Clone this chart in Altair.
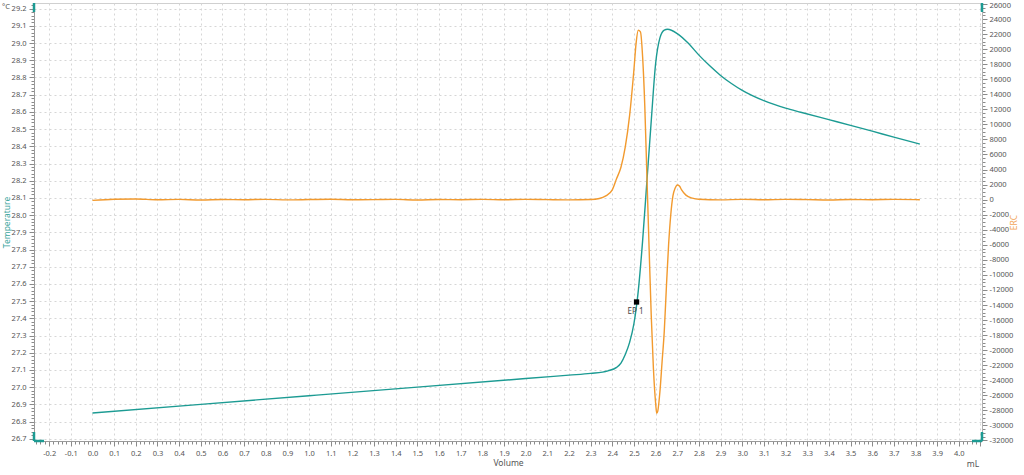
import altair as alt
import pandas as pd
import numpy as np

# ---- data ----
teal_vol = [0.00, 0.50, 1.00, 1.50, 2.00, 2.20, 2.30, 2.38, 2.42, 2.44, 2.46, 2.48, 2.50,
            2.52, 2.54, 2.56, 2.58, 2.60, 2.62, 2.64, 2.655, 2.70, 2.75, 2.80, 2.85,
            2.90, 2.95, 3.00, 3.10, 3.20, 3.27, 3.40, 3.50, 3.60, 3.70, 3.82]
teal_temp = [26.85, 26.90, 26.95, 27.00, 27.05, 27.07, 27.08, 27.095, 27.115, 27.14, 27.19, 27.26, 27.37,
             27.56, 27.85, 28.20, 28.55, 28.88, 29.03, 29.075, 29.08, 29.055, 29.00, 28.93, 28.868,
             28.812, 28.765, 28.725, 28.665, 28.622, 28.598, 28.555, 28.522, 28.488, 28.453, 28.413]

erc_vol = [0.0, 0.1, 0.2, 0.3, 0.4, 0.5, 0.6, 0.7, 0.8, 0.9, 1.0, 1.1, 1.2, 1.3, 1.4, 1.5,
           1.6, 1.7, 1.8, 1.9, 2.0, 2.1, 2.2, 2.3,
           2.34, 2.37, 2.40, 2.42, 2.44, 2.46, 2.48, 2.50, 2.51, 2.52, 2.53, 2.54, 2.55, 2.56,
           2.57, 2.58, 2.59, 2.60, 2.605, 2.61, 2.62, 2.63, 2.64, 2.65, 2.66, 2.67, 2.68, 2.69,
           2.70, 2.71, 2.72, 2.74, 2.77, 2.80, 2.9, 3.0, 3.1, 3.2, 3.3, 3.4, 3.5, 3.6, 3.7, 3.8, 3.82]
erc_val = [-100, 60, 90, -20, 30, -40, 20, -10, 40, -30, 10, 50, -20, 0, 30, -40,
           20, -10, 30, -20, 40, 0, -30, 20,
           150, 500, 1300, 2800, 4300, 7000, 11200, 17300, 20800, 22500, 22300, 19000, 12500, 3000,
           -6500, -15500, -22500, -27000, -28400, -28100, -25500, -21500, -17500, -11500, -6000, -2000, 500, 1500,
           1950, 1800, 1300, 600, 200, 60, -30, 40, -20, 30, 0, -40, 20, -10, 30, 0, -20]

ep_vol = [2.512]
ep_temp = [27.495]
ep_label = ["EP 1"]

x_title = "Volume"
x_unit = "mL"
yl_title = "Temperature"
yl_unit = "°C"
yr_title = "ERC"

TEAL = "#1c9b93"
ORANGE = "#f29a2e"
LABEL = "#555555"
FONT = "Noto Sans"
LFS = 7.5

teal_df = pd.DataFrame({"vol": teal_vol, "temp": teal_temp})
erc_df = pd.DataFrame({"vol": erc_vol, "erc": erc_val})
ep_df = pd.DataFrame({"vol": ep_vol, "temp": ep_temp, "label": ep_label})

# tick positions (major + minor)
x_ticks = np.round(np.arange(-0.26, 4.1001, 0.02), 2).tolist()
yl_ticks = np.round(np.arange(26.70, 29.2201, 0.02), 2).tolist()
yr_ticks = list(range(-32000, 26001, 500))

MAJ_X = "abs(datum.value*10 - round(datum.value*10)) < 0.001"
MAJ_YR = "datum.value % 2000 == 0"
MINUS = "\u2212"

x_axis = alt.Axis(
    values=x_ticks, tickCount=1000,
    labelExpr=f"({MAJ_X}) && datum.value > -0.25 && datum.value < 4.05 ? replace(format(datum.value, '.1f'), '{MINUS}', '-') : ''",
    tickSize={"condition": {"test": MAJ_X, "value": 5}, "value": 3},
    gridColor={"condition": {"test": MAJ_X, "value": "#d6d6d6"}, "value": "transparent"},
    gridDash=[2, 3], grid=True,
    labelOverlap=False, labelFlush=False, labelPadding=3,
    labelFontSize=LFS, labelColor=LABEL, labelFont=FONT,
    tickColor="#8a8a8a", domainColor="#9a9a9a",
    title=x_title, titleFontSize=8.5, titleFontWeight="normal", titleColor=LABEL,
    titleFont=FONT, titlePadding=2,
)

yl_axis = alt.Axis(
    orient="left",
    values=yl_ticks, tickCount=1000,
    labelExpr=f"({MAJ_X}) ? format(datum.value, '.1f') : ''",
    tickSize={"condition": {"test": MAJ_X, "value": 5}, "value": 3},
    gridColor={"condition": {"test": MAJ_X, "value": "#d6d6d6"}, "value": "transparent"},
    gridDash=[2, 3], grid=True,
    labelOverlap=False, labelFlush=False, labelPadding=3,
    labelFontSize=LFS, labelColor=LABEL, labelFont=FONT,
    tickColor="#8a8a8a", domainColor="#9a9a9a",
    title=yl_title, titleFontSize=8.5, titleFontWeight="normal", titleColor="#3aa59c",
    titleFont=FONT, titleX=-28, titleBaseline="middle", titleAngle=270,
)

yr_axis = alt.Axis(
    orient="right",
    values=yr_ticks, tickCount=1000,
    labelExpr=f"({MAJ_YR}) ? replace(format(datum.value, '.0f'), '{MINUS}', '-') : ''",
    tickSize={"condition": {"test": MAJ_YR, "value": 5}, "value": 3},
    labelOffset={"condition": {"test": "datum.value == 26000", "value": 2}, "value": 0},
    grid=False,
    labelOverlap=False, labelFlush=False, labelPadding=2,
    labelFontSize=LFS, labelColor=LABEL, labelFont=FONT,
    tickColor="#8a8a8a", domainColor="#b0b0b0",
    title=yr_title, titleFontSize=8.5, titleFontWeight="normal", titleColor="#f2a55a",
    titleFont=FONT, titlePadding=6, titleAngle=270,
)

X = alt.X("vol:Q", scale=alt.Scale(domain=[-0.27, 4.107], nice=False, zero=False), axis=x_axis)
YL = alt.Y("temp:Q", scale=alt.Scale(domain=[26.687, 29.233], nice=False, zero=False), axis=yl_axis)
YR = alt.Y("erc:Q", scale=alt.Scale(domain=[-32070, 26130], nice=False, zero=False), axis=yr_axis)

teal = alt.Chart(teal_df).mark_line(color=TEAL, strokeWidth=1.4, interpolate="monotone").encode(x=X, y=YL)
ep_pt = alt.Chart(ep_df).mark_square(color="black", size=28, opacity=1).encode(x="vol:Q", y="temp:Q")
ep_txt = alt.Chart(ep_df).mark_text(fontSize=8, color="#444", font=FONT, dy=10, dx=-1).encode(
    x="vol:Q", y="temp:Q", text="label:N")

orange = alt.Chart(erc_df).mark_line(color=ORANGE, strokeWidth=1.4, interpolate="monotone").encode(x=X, y=YR)

one = pd.DataFrame({"a": [0]})
deg = alt.Chart(one).mark_text(text=yl_unit, fontSize=7.5, color=LABEL, font=FONT, align="center").encode(
    x=alt.value(-28), y=alt.value(4))
ml = alt.Chart(one).mark_text(text=x_unit, fontSize=8.5, color=LABEL, font=FONT, align="center").encode(
    x=alt.value(939), y=alt.value(461))

def bar(x1, x2, y1, y2):
    return alt.Chart(one).mark_rule(color=TEAL, strokeWidth=2.5).encode(
        x=alt.value(x1), x2=alt.value(x2), y=alt.value(y1), y2=alt.value(y2))

handles = [
    bar(0, 0, 0, 9),
    bar(0, 0, 429, 438),
    bar(0, 10, 438, 438),
    bar(938, 948, 438, 438),
    bar(948, 948, 429, 438),
    bar(948, 948, 0, 9),
]

chart = alt.layer(
    alt.layer(teal, ep_pt, ep_txt),
    orange,
    deg, ml, *handles,
).resolve_scale(y="independent").properties(
    width=948, height=438,
    autosize=alt.AutoSizeParams(type="none"),
    padding={"left": 34, "top": 3, "right": 42, "bottom": 34},
    background="white",
).configure_view(stroke="#d0d0d0", strokeWidth=1)

chart.save("out.html", embed_options={"renderer": "svg", "actions": False})
